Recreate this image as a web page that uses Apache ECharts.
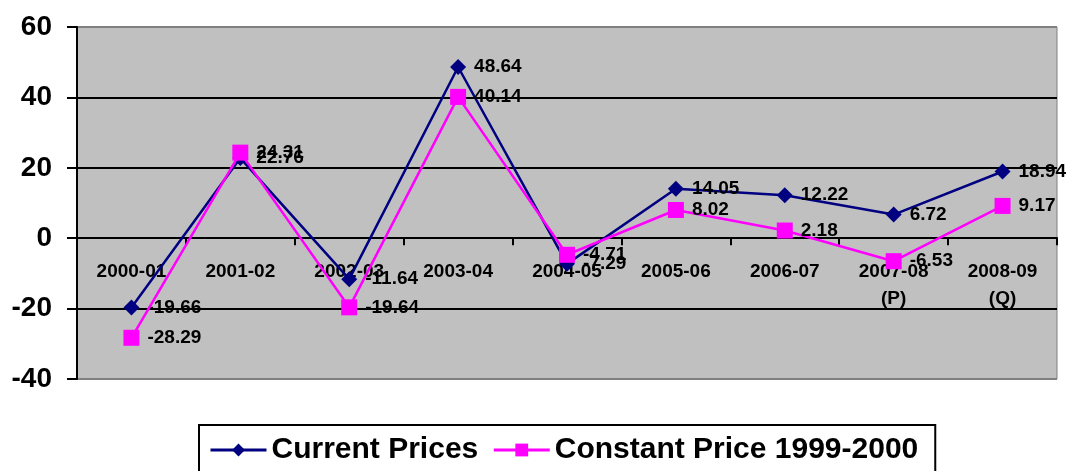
<!DOCTYPE html>
<html>
<head>
<meta charset="utf-8">
<script src="https://cdn.jsdelivr.net/npm/echarts@6/dist/echarts.min.js"></script>
<style>
  html, body { margin: 0; padding: 0; background: #fff; }
  #chart { width: 1067px; height: 471px; }
</style>
</head>
<body>
<div id="chart"></div>
<script>
// Annual growth rates (%), current vs constant prices
const categories = ['2000-01', '2001-02', '2002-03', '2003-04', '2004-05', '2005-06', '2006-07', '2007-08\n(P)', '2008-09\n(Q)'];
const currentPrices = [-19.66, 22.76, -11.64, 48.64, -7.29, 14.05, 12.22, 6.72, 18.94];
const constantPrices = [-28.29, 24.31, -19.64, 40.14, -4.71, 8.02, 2.18, -6.53, 9.17];
const yTicks = { min: -40, max: 60, interval: 20 };

const FONT = 'Liberation Sans, Arial, sans-serif';
const gridTop = 27;
const gridBottom = 92;
const plotHeight = 471 - gridTop - gridBottom;
// category axis sits on the zero line of the value axis
const zeroOffset = plotHeight * (0 - yTicks.min) / (yTicks.max - yTicks.min);

const labelStyle = {
  show: true,
  position: 'right',
  distance: 8,
  fontFamily: FONT,
  fontWeight: 'bold',
  fontSize: 19,
  color: '#000'
};

const chart = echarts.init(document.getElementById('chart'), null, { renderer: 'canvas' });
chart.setOption({
  animation: false,
  backgroundColor: '#fff',
  grid: {
    left: 77, right: 10, top: gridTop, bottom: gridBottom,
    show: true,
    backgroundColor: '#c0c0c0',
    borderColor: '#808080',
    borderWidth: 1
  },
  legend: {
    left: 199,
    top: 425,
    padding: [10, 17, 14, 10],
    borderColor: '#000',
    borderWidth: 2,
    itemWidth: 56,
    itemHeight: 16,
    itemGap: 14,
    lineStyle: { width: 3 },
    textStyle: {
      fontFamily: FONT,
      fontWeight: 'bold',
      fontSize: 30,
      color: '#000'
    },
    data: ['Current Prices', 'Constant Price 1999-2000']
  },
  xAxis: {
    type: 'category',
    data: categories,
    boundaryGap: true,
    position: 'bottom',
    offset: -zeroOffset,
    axisLine: { onZero: false, lineStyle: { color: '#000', width: 2 } },
    axisTick: { show: true, inside: false, length: 7, interval: 0, lineStyle: { color: '#000', width: 2 } },
    axisLabel: {
      interval: 0,
      margin: 20,
      fontFamily: FONT,
      fontWeight: 'bold',
      fontSize: 19,
      lineHeight: 27,
      color: '#000'
    },
    splitLine: { show: false }
  },
  yAxis: {
    type: 'value',
    min: yTicks.min,
    max: yTicks.max,
    interval: yTicks.interval,
    axisLine: { show: true, lineStyle: { color: '#000', width: 2 } },
    axisTick: { show: true, inside: false, length: 10, lineStyle: { color: '#000', width: 2 } },
    axisLabel: {
      margin: 25,
      fontFamily: FONT,
      fontWeight: 'bold',
      fontSize: 28,
      color: '#000'
    },
    splitLine: {
      show: true,
      lineStyle: { color: ['#808080', '#000', '#000', '#000', '#000', '#808080'], width: 2 }
    }
  },
  series: [
    {
      name: 'Current Prices',
      type: 'line',
      data: currentPrices,
      symbol: 'diamond',
      symbolSize: 16,
      lineStyle: { color: '#000080', width: 2.5 },
      itemStyle: { color: '#000080' },
      label: labelStyle,
      z: 3
    },
    {
      name: 'Constant Price 1999-2000',
      type: 'line',
      data: constantPrices,
      symbol: 'rect',
      symbolSize: 16,
      lineStyle: { color: '#ff00ff', width: 2.5 },
      itemStyle: { color: '#ff00ff' },
      label: labelStyle,
      z: 4
    }
  ]
});
</script>
</body>
</html>
